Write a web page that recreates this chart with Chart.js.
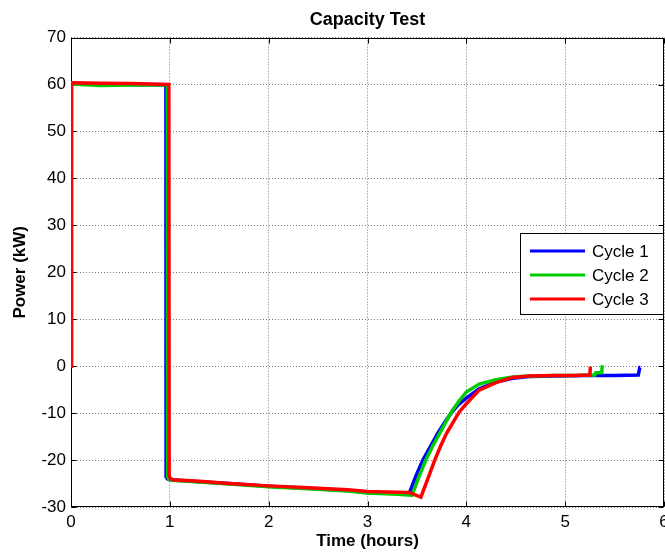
<!DOCTYPE html>
<html>
<head>
<meta charset="utf-8">
<script src="https://cdn.jsdelivr.net/npm/chart.js@4/dist/chart.umd.min.js"></script>
<style>
  html, body { margin: 0; padding: 0; background: #ffffff; }
  canvas { display: block; }
</style>
</head>
<body>
<canvas id="chart" width="665" height="554"></canvas>
<script>
// Capacity test: power over time for three charge/discharge cycles
const seriesLabels = ['Cycle 1', 'Cycle 2', 'Cycle 3'];
const seriesColors = ['#0000ff', '#00cc00', '#ff0000'];

const cycle1Time  = [0, 0.004, 0.3, 0.6, 0.96, 0.962, 0.975, 1.0, 1.3, 1.6, 2.0, 2.4, 2.8, 3.0, 3.2, 3.42, 3.49, 3.56, 3.64, 3.71, 3.78, 3.85, 3.92, 4.0, 4.13, 4.3, 4.47, 4.64, 4.9, 5.2, 5.5, 5.74, 5.755, 5.76];
const cycle1Power = [0, 60.2, 60.1, 60.0, 59.9, -23.6, -24.0, -24.2, -24.6, -25.0, -25.6, -26.0, -26.5, -26.9, -27.0, -27.2, -23.4, -20.0, -17.0, -14.3, -12.0, -9.9, -8.2, -6.8, -4.8, -3.4, -2.6, -2.2, -2.1, -2.0, -2.0, -1.9, -0.3, -0.3];

const cycle2Time  = [0, 0.004, 0.3, 0.6, 0.975, 0.978, 0.99, 1.02, 1.3, 1.6, 2.0, 2.4, 2.8, 3.0, 3.3, 3.45, 3.52, 3.59, 3.66, 3.73, 3.8, 3.86, 3.93, 4.0, 4.13, 4.3, 4.47, 4.64, 4.9, 5.1, 5.3, 5.31, 5.37, 5.375, 5.38];
const cycle2Power = [0, 60.1, 59.8, 59.9, 59.9, -23.6, -24.0, -24.3, -24.7, -25.1, -25.7, -26.1, -26.6, -27.0, -27.3, -27.5, -23.6, -20.0, -17.0, -14.3, -11.6, -9.4, -7.3, -5.5, -3.8, -2.9, -2.3, -2.1, -2.0, -2.0, -1.9, -1.4, -1.4, 0.2, 0.2];

const cycle3Time  = [0, 0.004, 0.3, 0.6, 0.99, 0.993, 1.005, 1.03, 1.3, 1.6, 2.0, 2.4, 2.8, 3.0, 3.2, 3.42, 3.54, 3.61, 3.68, 3.74, 3.8, 3.87, 3.93, 4.0, 4.13, 4.3, 4.47, 4.64, 4.9, 5.1, 5.25, 5.255, 5.26];
const cycle3Power = [0, 60.4, 60.3, 60.2, 60.0, -23.4, -23.9, -24.2, -24.5, -25.0, -25.5, -25.9, -26.3, -26.7, -26.8, -26.9, -27.9, -24.0, -20.0, -17.0, -14.3, -11.8, -9.7, -8.0, -5.1, -3.5, -2.4, -2.1, -2.0, -2.0, -1.9, -0.1, -0.1];

const xTicks = [0, 1, 2, 3, 4, 5, 6];
const yTicks = [-30, -20, -10, 0, 10, 20, 30, 40, 50, 60, 70];

const seriesTimes = [cycle1Time, cycle2Time, cycle3Time];
const seriesPowers = [cycle1Power, cycle2Power, cycle3Power];

const FONT = '"Liberation Sans", Arial, Helvetica, sans-serif';
Chart.defaults.font.family = FONT;
Chart.defaults.color = '#000000';

function toPoints(ts, ps) {
  return ts.map((t, i) => ({ x: t, y: ps[i] }));
}

// Axes box plus short inward tick marks on all four sides
const axesBox = {
  id: 'axesBox',
  beforeDatasetsDraw(chart) {
    const { ctx, chartArea: a, scales } = chart;
    const L = Math.round(a.left) + 0.5, R = Math.round(a.right) - 0.5;
    const T = Math.round(a.top) + 0.5, B = Math.round(a.bottom) - 0.5;
    const len = 5;
    ctx.save();
    ctx.strokeStyle = '#000000';
    ctx.lineWidth = 1;
    ctx.beginPath();
    xTicks.forEach(v => {
      const px = Math.round(scales.x.getPixelForValue(v)) + 0.5;
      ctx.moveTo(px, B); ctx.lineTo(px, B - len);
      ctx.moveTo(px, T); ctx.lineTo(px, T + len);
    });
    yTicks.forEach(v => {
      const py = Math.round(scales.y.getPixelForValue(v)) + 0.5;
      ctx.moveTo(L, py); ctx.lineTo(L + len, py);
      ctx.moveTo(R, py); ctx.lineTo(R - len, py);
    });
    ctx.stroke();
    ctx.strokeRect(L, T, R - L, B - T);
    ctx.restore();
  }
};

// Boxed legend sitting inside the plot area on the right
const boxLegend = {
  id: 'boxLegend',
  afterDatasetsDraw(chart) {
    const { ctx, chartArea: a } = chart;
    const w = 144, h = 82;
    const x0 = Math.round(a.right) - w, y0 = 233;
    ctx.save();
    ctx.fillStyle = '#ffffff';
    ctx.fillRect(x0, y0, w, h);
    ctx.strokeStyle = '#000000';
    ctx.lineWidth = 1;
    ctx.strokeRect(x0 + 0.5, y0 + 0.5, w - 1, h - 1);
    ctx.font = '17px ' + FONT;
    ctx.textBaseline = 'middle';
    ctx.textAlign = 'left';
    chart.data.datasets.forEach((ds, i) => {
      const y = y0 + 18 + i * 24;
      ctx.strokeStyle = ds.borderColor;
      ctx.lineWidth = 3;
      ctx.beginPath();
      ctx.moveTo(x0 + 10, y);
      ctx.lineTo(x0 + 65, y);
      ctx.stroke();
      ctx.fillStyle = '#000000';
      ctx.fillText(ds.label, x0 + 72, y + 1);
    });
    ctx.restore();
  }
};

const datasets = seriesLabels.map((label, i) => ({
  label: label,
  data: toPoints(seriesTimes[i], seriesPowers[i]),
  borderColor: seriesColors[i],
  backgroundColor: seriesColors[i],
  borderWidth: 3.5,
  pointRadius: 0,
  tension: 0,
  fill: false,
  order: seriesLabels.length - i
}));

new Chart(document.getElementById('chart'), {
  type: 'line',
  data: { datasets },
  plugins: [axesBox, boxLegend],
  options: {
    responsive: false,
    animation: false,
    devicePixelRatio: 1,
    layout: { padding: { top: 0, right: 1, bottom: 0, left: 0 } },
    plugins: {
      legend: { display: false },
      tooltip: { enabled: false },
      title: {
        display: true,
        text: 'Capacity Test',
        fullSize: false,
        color: '#000000',
        font: { size: 18, weight: 'bold' },
        padding: { top: 9, bottom: 7 }
      }
    },
    scales: {
      x: {
        type: 'linear',
        min: 0,
        max: 6,
        afterBuildTicks(scale) { scale.ticks = xTicks.map(v => ({ value: v })); },
        afterFit(scale) {
          scale.height = 47;
          scale.paddingLeft = 0;
          scale.paddingRight = 0;
        },
        ticks: { font: { size: 17 }, color: '#000000', padding: 5, maxRotation: 0 },
        grid: { color: '#7a7a7a', lineWidth: 1, drawTicks: false },
        border: { display: false, dash: [1, 2] },
        title: {
          display: true,
          text: 'Time (hours)',
          color: '#000000',
          font: { size: 17, weight: 'bold' },
          padding: { top: 0, bottom: 2 }
        }
      },
      y: {
        type: 'linear',
        min: -30,
        max: 70,
        afterBuildTicks(scale) { scale.ticks = yTicks.map(v => ({ value: v })); },
        afterFit(scale) {
          scale.width = 71;
          scale.paddingTop = 0;
          scale.paddingBottom = 0;
        },
        ticks: { font: { size: 17 }, color: '#000000', padding: 5 },
        grid: { color: '#7a7a7a', lineWidth: 1, drawTicks: false },
        border: { display: false, dash: [1, 2] },
        title: {
          display: true,
          text: 'Power (kW)',
          color: '#000000',
          font: { size: 17, weight: 'bold' },
          padding: { top: 10, bottom: 0 }
        }
      }
    }
  }
});
</script>
</body>
</html>
